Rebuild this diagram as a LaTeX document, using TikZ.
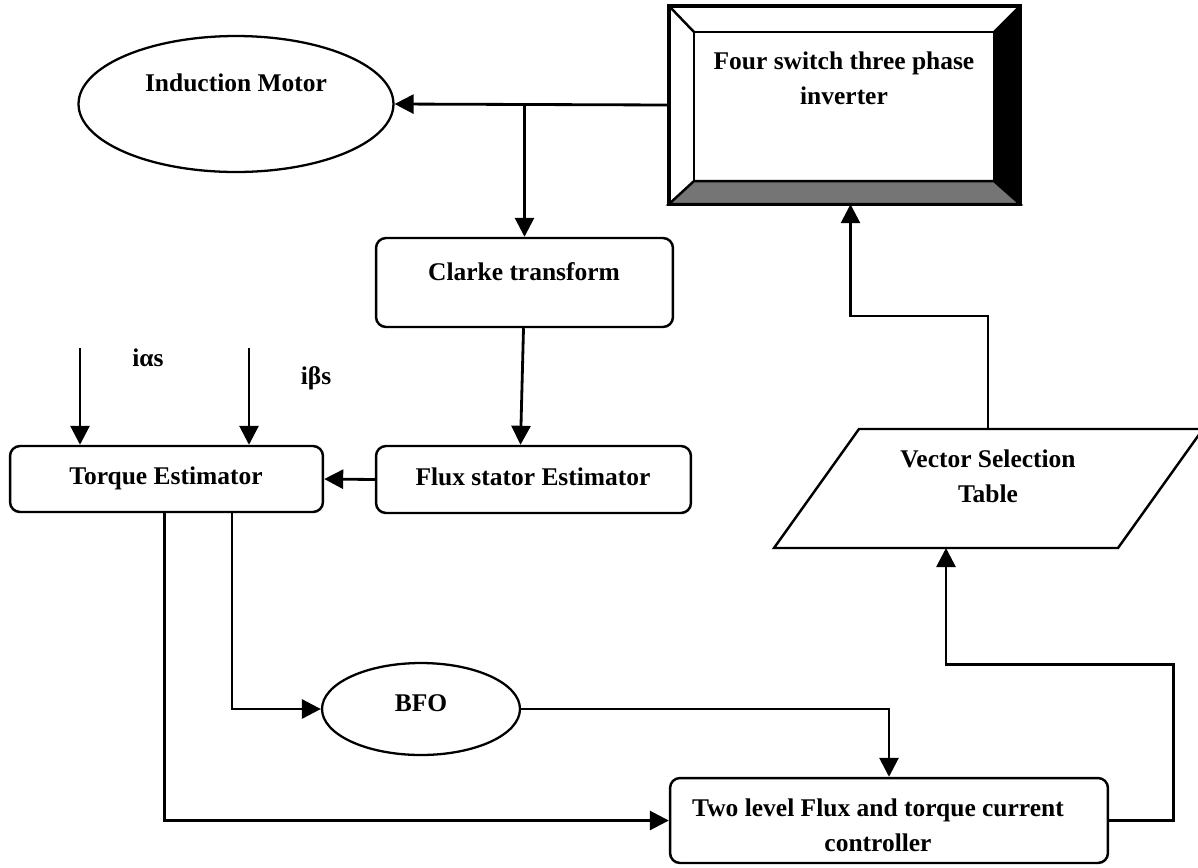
\documentclass[tikz,border=0pt]{standalone}
\usepackage{fontspec}
\setmainfont{Liberation Serif}
\usetikzlibrary{arrows.meta,shapes.geometric,calc}

\begin{document}
\begin{tikzpicture}[
  x=0.02cm, y=-0.02cm,
  >={Triangle[length=0.38cm,width=0.38cm]},
  font=\bfseries\fontsize{14.5}{20}\selectfont,
  box/.style={draw,rounded corners=0.2cm,line width=1.4pt,inner sep=0pt},
  oval/.style={draw,ellipse,line width=1.3pt,inner sep=0pt},
  txt/.style={align=center,inner sep=0pt},
  sig/.style={->,line width=1.6pt}]

  \definecolor{bevelc}{RGB}{117,117,117}

  \useasboundingbox (0,0) rectangle (1198,867);

  % blocks
  \node[box,rounded corners=0pt,minimum width=6.98cm,minimum height=3.92cm] (inv) at (844.5,105) {};
  \node[oval,minimum width=6.3cm,minimum height=2.72cm] (im) at (236,104) {};
  \node[box,minimum width=5.94cm,minimum height=1.78cm] (clarke) at (524.5,282.5) {};
  \node[box,minimum width=6.3cm,minimum height=1.34cm] (flux) at (533.5,479.5) {};
  \node[box,minimum width=6.26cm,minimum height=1.32cm] (torque) at (166.5,479) {};
  \node[oval,minimum width=3.96cm,minimum height=1.84cm] (bfo) at (421,709) {};
  \node[box,minimum width=8.76cm,minimum height=1.7cm] (ctl) at (889,820.5) {};

  % selection table (parallelogram)
  \coordinate (vst-bl) at (774,548);
  \coordinate (vst-br) at (1118,548);
  \coordinate (vst-tr) at (1203,429);
  \coordinate (vst-tl) at (859,429);
  \draw[line width=1.4pt,line join=miter] (vst-bl) -- (vst-br) -- (vst-tr) -- (vst-tl) -- cycle;

  % bevelled frame of the inverter
  \fill[black] (inv.north east) -- (inv.south east) -- ++(-26,-23) -- ($(inv.north east)+(-26,26)$) -- cycle;
  \filldraw[fill=bevelc,line width=1.4pt] (inv.south west) -- (inv.south east) -- ++(-26,-23)
    -- ($(inv.south west)+(25,-23)$) -- cycle;
  \draw[line width=1.4pt] ($(inv.north west)+(25,26)$) rectangle ($(inv.south east)+(-26,-23)$);
  \draw[line width=1.4pt] (inv.north west) -- ++(25,26);
  \draw[line width=1.4pt] (inv.north east) -- ++(-26,26);
  \draw[line width=1.9pt] (inv.north west) rectangle (inv.south east);

  % texts
  \node[txt] (inv-t) at (844,78) {Four switch three phase\\inverter};
  \node[txt] (im-t) at (236,83) {Induction Motor};
  \node[txt] (clarke-t) at (524,272) {Clarke transform};
  \node[txt] (flux-t) at (533,477) {Flux stator Estimator};
  \node[txt] (torque-t) at (166,478) {Torque Estimator};
  \node[txt] (bfo-t) at (421,703) {BFO};
  \node[txt] (ctl-t) at (878,825) {Two level Flux and torque current\\controller};
  \node[txt] (vst-t) at (988,476) {Vector Selection\\Table};
  \node[txt] (ia-t) at (148,358) {iαs};
  \node[txt] (ib-t) at (316,378) {iβs};

  % current inputs
  \coordinate (ia) at (80,348);
  \coordinate (ib) at (249,348);
  \draw[sig] (ia) -- (ia |- torque.north);
  \draw[sig] (ib) -- (ib |- torque.north);

  % inverter to motor, tapped for the Clarke transform
  \draw[sig] (inv.west) -- (im.east);
  \draw[sig] (clarke.north |- inv.west) -- (clarke.north);
  \draw[sig] ($(clarke.south)+(-1,0)$) -- ($(flux.north)+(-13,0)$);
  \draw[sig] (flux.west) -- (torque.east);

  % estimator outputs
  \draw[sig] ($(torque.south)+(65.5,0)$) |- (bfo.west);
  \draw[sig] ($(torque.south)+(-2,0)$) |- (ctl.west);
  \draw[sig] (bfo.east) -| (ctl.north);

  % controller to selection table, then to the inverter
  \draw[sig] (ctl.east) -- ++(64,0) -- ++(0,-156) -| ($(vst-bl)!0.5!(vst-br)$);
  \draw[sig] (vst-t |- vst-tl) -- ++(0,-113) -| ($(inv.south)+(6,0)$);
\end{tikzpicture}
\end{document}
